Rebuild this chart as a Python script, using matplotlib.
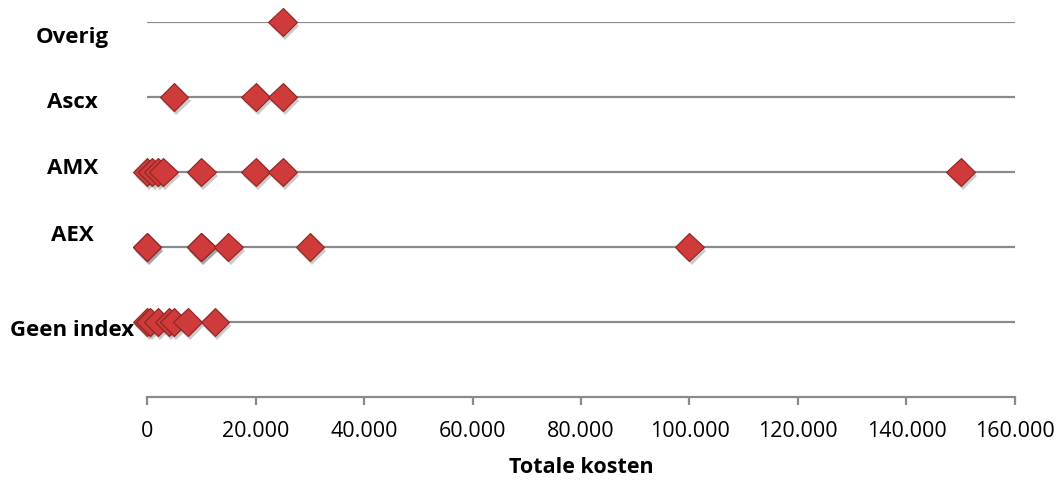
import matplotlib.pyplot as plt
import matplotlib.patheffects as pe
from matplotlib.ticker import FuncFormatter

# categorieen (van onder naar boven)
categories = ['Geen index', 'AEX', 'AMX', 'Ascx', 'Overig']

# totale kosten per categorie
geen_index = [0, 500, 2000, 4000, 5000, 7500, 12500]
aex = [0, 0, 10000, 10000, 15000, 30000, 100000]
amx = [0, 1000, 2000, 3000, 10000, 20000, 25000, 150000]
ascx = [5000, 20000, 25000]
overig = [25000]

series = [geen_index, aex, amx, ascx, overig]

# verschuiving van de labels t.o.v. de lijn (zoals in het origineel)
label_shift = [-0.11, 0.16, 0.05, -0.08, -0.21]

fig = plt.figure(figsize=(10.61, 4.83), dpi=100)
ax = fig.add_axes([0.1386, 0.178, 0.818, 0.7765])

grid_col = '#8a8a8a'
for i, vals in enumerate(series):
    y = i + 1
    ax.axhline(y, color=grid_col, lw=1.6, zorder=1)
    ax.plot(vals, [y] * len(vals), linestyle='none', marker='D', markersize=14.5,
            markerfacecolor='#cf3a3a', markeredgecolor='#8e2424', markeredgewidth=0.8,
            zorder=3, clip_on=False,
            path_effects=[pe.SimplePatchShadow(offset=(1.5, -3), alpha=0.3, shadow_rgbFace='#555555'),
                          pe.Normal()])
    ax.text(-0.086, y + label_shift[i], categories[i], transform=ax.get_yaxis_transform(),
            ha='center', va='center', fontsize=16, fontweight='bold', family='Open Sans')

ax.set_xlim(0, 160000)
ax.set_ylim(0, 5)
ax.set_xticks(range(0, 160001, 20000))
ax.xaxis.set_major_formatter(FuncFormatter(lambda v, p: f'{int(v):,}'.replace(',', '.')))
ax.set_yticks([])

for s in ['top', 'right', 'left']:
    ax.spines[s].set_visible(False)
ax.spines['bottom'].set_color(grid_col)
ax.spines['bottom'].set_linewidth(1.6)
ax.tick_params(axis='x', direction='out', length=6, width=1.6, color=grid_col,
               labelsize=15.5, pad=11)
for lbl in ax.get_xticklabels():
    lbl.set_family('Open Sans')

ax.set_xlabel('Totale kosten', fontsize=15.5, fontweight='bold', family='Open Sans', labelpad=11)

fig.savefig('out.png', dpi=100)
